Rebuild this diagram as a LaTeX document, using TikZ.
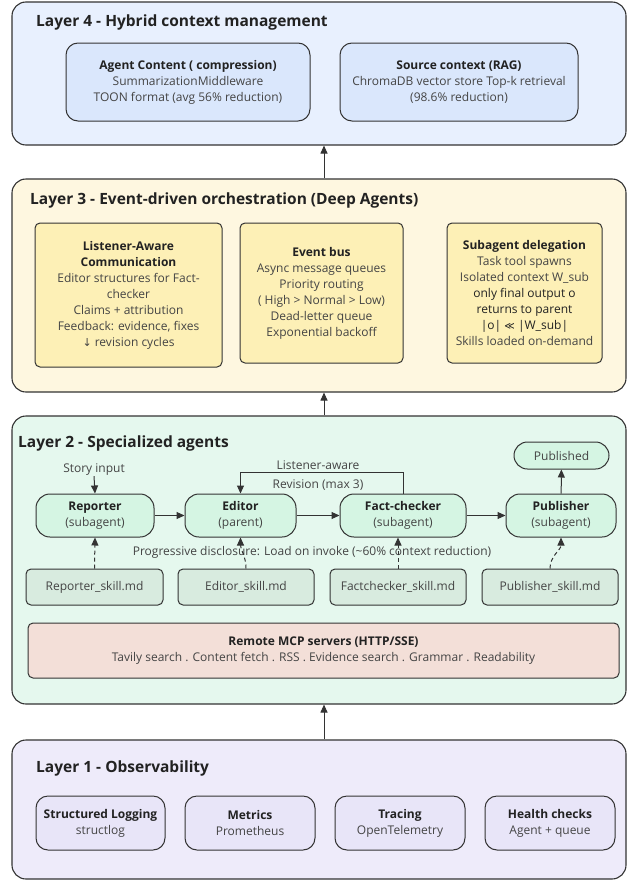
\documentclass[tikz,border=0pt]{standalone}
\usepackage{fontspec}
\setmainfont{Open Sans}
\newfontfamily\symfont{DejaVu Sans}
\usetikzlibrary{arrows.meta,calc}
\definecolor{edge}{HTML}{333333}
\definecolor{tdark}{HTML}{222222}
\definecolor{tbody}{HTML}{444444}
\definecolor{lfour}{HTML}{E8F0FE}
\definecolor{lfourbox}{HTML}{DAE7FC}
\definecolor{lthree}{HTML}{FEF7E0}
\definecolor{lthreebox}{HTML}{FDF0B6}
\definecolor{ltwo}{HTML}{E5F8EE}
\definecolor{agentfill}{HTML}{D5F5E3}
\definecolor{skillfill}{HTML}{D8EBDF}
\definecolor{mcpfill}{HTML}{F3DFD8}
\definecolor{lone}{HTML}{EEEBFA}
\definecolor{lonebox}{HTML}{E8E5F8}
\newcommand{\hd}[1]{\textcolor{tdark}{\bfseries #1}}
\begin{document}
\begin{tikzpicture}[x=1pt,y=-1pt,
  layer/.style={draw=edge, line width=1.1pt, rounded corners=14pt, inner sep=0pt},
  ltitle/.style={anchor=base west, font=\fontsize{15.5}{19}\selectfont\bfseries, text=tdark, inner sep=0pt},
  txt/.style={align=center, font=\fontsize{12}{16}\selectfont, text=tbody, inner sep=0pt},
  bx/.style={draw=edge, line width=1pt, align=center, font=\fontsize{12}{16}\selectfont, text=tbody, inner sep=0pt},
  arr/.style={draw=edge, line width=1pt, -{Triangle[length=8pt,width=7pt]}},
  darr/.style={arr, dash pattern=on 4pt off 3pt}
]
\useasboundingbox (0,0) rectangle (628,881);

% ---------------- Layer 4
\node[layer, fill=lfour, minimum width=614pt, minimum height=143pt] (L4) at (319,73.5) {};
\node[ltitle] (L4t) at (36,26) {Layer 4 - Hybrid context management};
\node[bx, fill=lfourbox, rounded corners=12pt, minimum width=244pt, minimum height=78pt] (ac) at (188,82)
  {\hd{Agent Content ( compression)}\\SummarizationMiddleware\\TOON format (avg 56\% reduction)};
\node[bx, fill=lfourbox, rounded corners=12pt, minimum width=238pt, minimum height=78pt] (sc) at (459,82)
  {\hd{Source context (RAG)}\\ChromaDB vector store Top-k retrieval\\(98.6\% reduction)};

% ---------------- Layer 3
\node[layer, fill=lthree, minimum width=614pt, minimum height=213pt] (L3) at (319,285.5) {};
\node[ltitle] (L3t) at (30,204) {Layer 3 - Event-driven orchestration (Deep Agents)};
\node[bx, fill=lthreebox, rounded corners=5pt, minimum width=187pt, minimum height=144pt] (la) at (128.5,295)
  {\hd{Listener-Aware}\\\hd{Communication}\\Editor structures for Fact-\\checker\\Claims + attribution\\Feedback: evidence, fixes\\{\symfont\fontsize{11}{16}\selectfont ↓} revision cycles};
\node[bx, fill=lthreebox, rounded corners=5pt, minimum width=163pt, minimum height=140pt] (eb) at (321.5,293)
  {\hd{Event bus}\\Async message queues\\Priority routing\\( High > Normal > Low)\\Dead-letter queue\\Exponential backoff};
\node[bx, fill=lthreebox, rounded corners=5pt, minimum width=155pt, minimum height=140pt] (sd) at (524.5,293)
  {\hd{Subagent delegation}\\Task tool spawns\\Isolated context W\_sub\\\textcolor{tdark}{only final output o}\\\textcolor{tdark}{returns to parent}\\\textcolor{tdark}{|o| {\symfont\fontsize{10}{16}\selectfont ≪} |W\_sub|}\\Skills loaded on-demand};

% ---------------- Layer 2
\node[layer, fill=ltwo, minimum width=614pt, minimum height=288pt] (L2) at (319,560) {};
\node[ltitle] (L2t) at (18,447) {Layer 2 - Specialized agents};

\node[bx, fill=agentfill, rounded corners=14pt, minimum width=118pt, minimum height=43pt] (rep) at (95,515.5)
  {\hd{Reporter}\\(subagent)};
\node[bx, fill=agentfill, rounded corners=14pt, minimum width=111pt, minimum height=43pt] (ed) at (240.5,515.5)
  {\hd{Editor}\\(parent)};
\node[bx, fill=agentfill, rounded corners=14pt, minimum width=126pt, minimum height=43pt] (fc) at (403,515.5)
  {\hd{Fact-checker}\\(subagent)};
\node[bx, fill=agentfill, rounded corners=14pt, minimum width=110pt, minimum height=43pt] (pub) at (561,515.5)
  {\hd{Publisher}\\(subagent)};
\node[bx, fill=agentfill, rounded corners=13.5pt, minimum width=95pt, minimum height=27pt] (pubd) at (561.5,455.5)
  {Published};

\node[txt] (story) at (94,470) {Story input};
\node[txt] (lbla) at (318,465) {Listener-aware};
\node[txt] (lblb) at (318,485) {Revision (max 3)};
\node[txt] (prog) at (312,552) {Progressive disclosure: Load on invoke (\textasciitilde60\% context reduction)};

\node[bx, fill=skillfill, rounded corners=5pt, minimum width=137pt, minimum height=36pt] (rs) at (94.5,587) {Reporter\_skill.md};
\node[bx, fill=skillfill, rounded corners=5pt, minimum width=136pt, minimum height=36pt] (es) at (246,587) {Editor\_skill.md};
\node[bx, fill=skillfill, rounded corners=5pt, minimum width=136pt, minimum height=36pt] (fs) at (398,587) {Factchecker\_skill.md};
\node[bx, fill=skillfill, rounded corners=5pt, minimum width=136pt, minimum height=36pt] (ps) at (550,587) {Publisher\_skill.md};

\node[bx, fill=mcpfill, rounded corners=5pt, minimum width=591pt, minimum height=55pt] (mcp) at (323.5,650.5)
  {\hd{Remote MCP servers (HTTP/SSE)}\\Tavily search . Content fetch . RSS . Evidence search . Grammar . Readability};

\draw[arr] (story.south) -- (rep.north);
\draw[arr] (rep) -- (ed);
\draw[arr] (ed) -- (fc);
\draw[arr] (fc) -- (pub);
\draw[arr] (pub) -- (pubd);
\draw[arr] (fc.north) -- ++(0,-21) -| (ed.north);

\draw[darr] (rs.north) -- (rep.south);
\draw[darr] (es.north) to[out=90,in=-90] (ed.south);
\draw[darr] (fs.north) -- (fs.north |- fc.south);
\draw[darr] (ps.north) to[out=90,in=-90] (pub.south);

% ---------------- Layer 1
\node[layer, fill=lone, minimum width=614pt, minimum height=139pt] (L1) at (319,809.5) {};
\node[ltitle] (L1t) at (36,772) {Layer 1 - Observability};
\node[bx, fill=lonebox, rounded corners=12pt, minimum width=129pt, minimum height=54pt] (o1) at (100.5,823) {\hd{Structured Logging}\\structlog};
\node[bx, fill=lonebox, rounded corners=12pt, minimum width=130pt, minimum height=54pt] (o2) at (250,823) {\hd{Metrics}\\Prometheus};
\node[bx, fill=lonebox, rounded corners=12pt, minimum width=130pt, minimum height=54pt] (o3) at (400,823) {\hd{Tracing}\\OpenTelemetry};
\node[bx, fill=lonebox, rounded corners=12pt, minimum width=130pt, minimum height=54pt] (o4) at (550,823) {\hd{Health checks}\\Agent + queue};

% ---------------- between layers
\draw[arr] ([xshift=5pt]L3.north) -- ([xshift=5pt]L4.south);
\draw[arr] ([xshift=5pt]L2.north) -- ([xshift=5pt]L3.south);
\draw[arr] ([xshift=5pt]L1.north) -- ([xshift=5pt]L2.south);
\end{tikzpicture}
\end{document}
